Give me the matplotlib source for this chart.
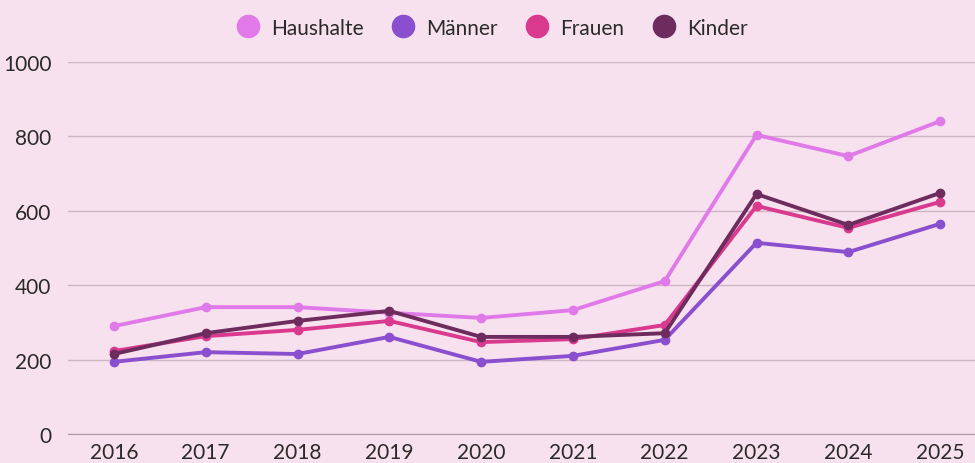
import matplotlib
matplotlib.use("Agg")

import matplotlib.pyplot as plt

# data
years = [2016, 2017, 2018, 2019, 2020, 2021, 2022, 2023, 2024, 2025]
haushalte = [290, 341, 341, 326, 312, 333, 411, 804, 747, 841]
maenner = [194, 220, 215, 261, 194, 210, 253, 514, 489, 565]
frauen = [223, 263, 280, 304, 247, 255, 293, 613, 554, 624]
kinder = [215, 271, 304, 331, 261, 261, 271, 645, 562, 648]

series = [
    ("Haushalte", haushalte, "#e07ae8"),
    ("Männer", maenner, "#8a4fcf"),
    ("Frauen", frauen, "#d93a8e"),
    ("Kinder", kinder, "#6e2c5e"),
]

bg = "#f8e1ee"
plt.rcParams['font.family'] = ['Lato', 'DejaVu Sans']

fig = plt.figure(figsize=(9.75, 4.64), dpi=100, facecolor=bg)
ax = fig.add_axes([68/975, 1-435/464, 1-68/975, 372/464])
ax.set_facecolor(bg)

for name, vals, col in series:
    ax.plot(years, vals, color=col, linewidth=2.8, marker='o', markersize=6,
            label=name, solid_joinstyle='round')

ax.set_xlim(2015.5, 2025.38)
ax.set_ylim(0, 1000)
ax.set_yticks([0, 200, 400, 600, 800, 1000])
ax.set_xticks(years)
ax.set_xticklabels([str(y) for y in years])
ax.grid(axis='y', color='#cdb6c3', linewidth=1)
ax.set_axisbelow(True)
for s in ['top', 'right', 'left']:
    ax.spines[s].set_visible(False)
ax.spines['bottom'].set_color('#a89aa2')
ax.tick_params(axis='both', length=0, labelsize=15, colors='#2a2a2a')
ax.tick_params(axis='y', pad=12)
ax.tick_params(axis='x', pad=6)

handles = [plt.Line2D([], [], color=c, marker='o', linestyle='', markersize=16)
           for _, _, c in series]
fig.legend(handles, [n for n, _, _ in series], loc='upper center',
           bbox_to_anchor=(0.5, 1.0), ncol=4, frameon=False, fontsize=15,
           handletextpad=0.1, columnspacing=0.9, labelcolor='#2a2a2a')

#save as png
fig.savefig("out.png", dpi=100, facecolor=bg)
